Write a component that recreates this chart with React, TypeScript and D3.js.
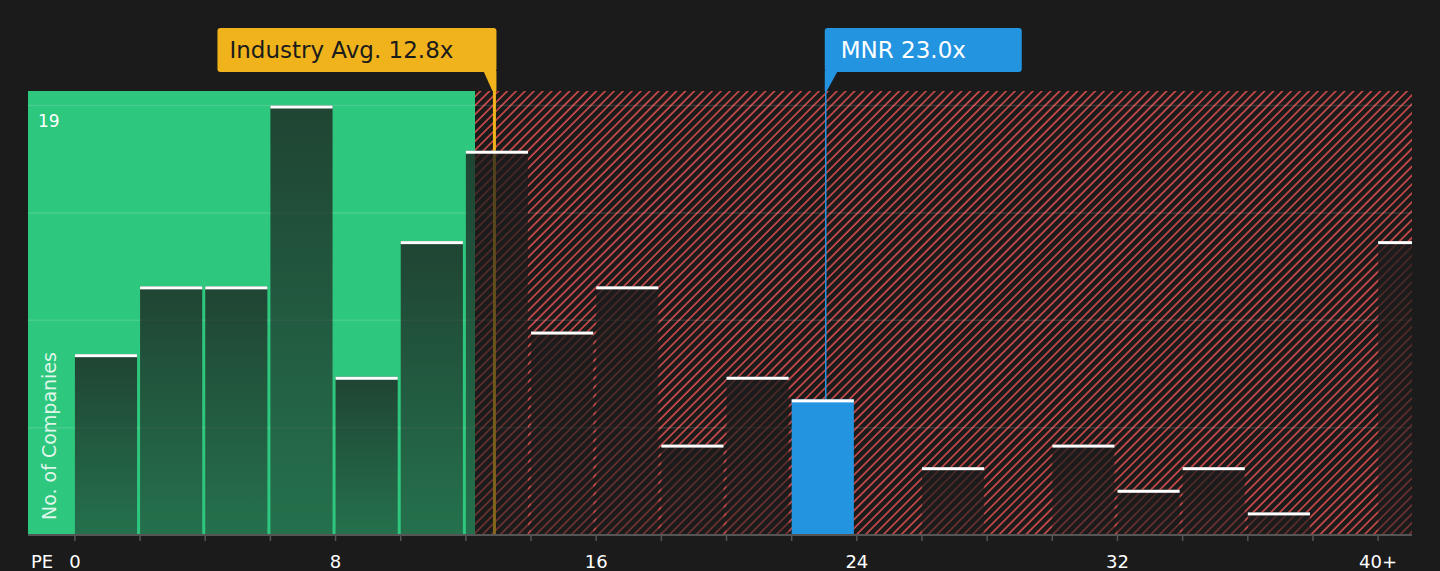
import React from 'react';
import * as d3 from 'd3';

// PE histogram, bins of width 2 (last one is 40+)
const PE_BIN_STARTS = [0, 2, 4, 6, 8, 10, 12, 14, 16, 18, 20, 22, 24, 26, 28, 30, 32, 34, 36, 38, 40];
const COMPANY_COUNTS = [8, 11, 11, 19, 7, 13, 17, 9, 11, 4, 7, 6, 0, 3, 0, 4, 2, 3, 1, 0, 13];
const BIN_WIDTH = 2;

const TICK_VALUES = [0, 8, 16, 24, 32, 40];
const TICK_LABELS = ['0', '8', '16', '24', '32', '40+'];
const MINOR_TICKS = d3.range(0, 41, 2);
const GRID_VALUES = [4.75, 9.5, 14.25, 19];
const Y_MAX = 19;

const INDUSTRY_AVG = 12.8;
const COMPANY_PE = 23.0;
const COMPANY_NAME = 'MNR';
const FAIR_LIMIT = 12.28;

const WIDTH = 1440;
const HEIGHT = 571;
const FONT = '"DejaVu Sans", Verdana, sans-serif';

const App: React.FC = () => {
  const plot = { left: 28, right: 1412, top: 91, bottom: 535 };

  const x = d3.scaleLinear().domain([-1.44, 41.04]).range([plot.left, plot.right]);
  const y = d3.scaleLinear().domain([0, Y_MAX]).range([plot.bottom, 105.5]);

  const bars = PE_BIN_STARTS.map((start, i) => ({
    start,
    count: COMPANY_COUNTS[i],
    highlight: COMPANY_PE >= start && COMPANY_PE < start + BIN_WIDTH,
  })).filter(d => d.count > 0);

  const avgX = x(INDUSTRY_AVG) + 2.5;
  const compX = x(COMPANY_PE) + 1.5;

  return (
    <svg
      width={WIDTH}
      height={HEIGHT}
      style={{ position: 'absolute', left: 0, top: 0, display: 'block', fontFamily: FONT }}
    >
      <defs>
        <pattern id="hatch" patternUnits="userSpaceOnUse" width={6.3} height={6.3} patternTransform="rotate(45)">
          <rect width={6.3} height={6.3} fill="#1b1b1b" />
          <line x1={1} y1={0} x2={1} y2={6.3} stroke="#d44d4c" strokeWidth={1.6} />
        </pattern>
        <linearGradient id="barFill" x1="0" y1="0" x2="0" y2="1">
          <stop offset="0%" stopColor="#1b1b1b" stopOpacity={0.76} />
          <stop offset="100%" stopColor="#1b1b1b" stopOpacity={0.5} />
        </linearGradient>
        <clipPath id="plotClip">
          <rect x={plot.left} y={0} width={plot.right - plot.left} height={plot.bottom} />
        </clipPath>
      </defs>

      <rect width={WIDTH} height={HEIGHT} fill="#1b1b1b" />

      {/* fair value zone and overvalued zone */}
      <rect
        x={plot.left}
        y={plot.top}
        width={x(FAIR_LIMIT) - plot.left}
        height={plot.bottom - plot.top}
        fill="#2ec77e"
      />
      <rect
        x={x(FAIR_LIMIT)}
        y={plot.top}
        width={plot.right - x(FAIR_LIMIT)}
        height={plot.bottom - plot.top}
        fill="url(#hatch)"
      />

      {GRID_VALUES.map(v => (
        <line
          key={v}
          x1={plot.left}
          x2={plot.right}
          y1={y(v)}
          y2={y(v)}
          stroke="#ffffff"
          strokeOpacity={0.12}
          strokeWidth={1.5}
        />
      ))}

      {/* reference lines, drawn behind bars */}
      <line x1={avgX} x2={avgX} y1={72} y2={plot.bottom} stroke="#f0b31c" strokeWidth={3} />
      <line x1={compX} x2={compX} y1={72} y2={plot.bottom} stroke="#2394df" strokeWidth={1.5} />

      <g clipPath="url(#plotClip)">
        {bars.map(d => {
          const bx = x(d.start);
          const bw = x(d.start + BIN_WIDTH) - x(d.start) - 3;
          const by = y(d.count);
          return (
            <g key={d.start}>
              <rect
                x={bx}
                y={by}
                width={bw}
                height={plot.bottom - by}
                fill={d.highlight ? '#2394df' : 'url(#barFill)'}
              />
              <rect x={bx} y={by} width={bw} height={3} fill="#ffffff" />
            </g>
          );
        })}
      </g>

      {/* x axis */}
      <line x1={plot.left} x2={plot.right} y1={plot.bottom} y2={plot.bottom} stroke="#555555" strokeWidth={2} />
      {MINOR_TICKS.map(t => (
        <line key={t} x1={x(t)} x2={x(t)} y1={plot.bottom} y2={plot.bottom + 6} stroke="#555555" strokeWidth={1.5} />
      ))}
      {TICK_VALUES.map((t, i) => (
        <text key={t} x={x(t)} y={568} textAnchor="middle" fontSize={18} fill="#ffffff">
          {TICK_LABELS[i]}
        </text>
      ))}
      <text x={31} y={568} fontSize={18} fill="#ffffff">PE</text>

      {/* y labels */}
      <text x={38} y={127} fontSize={17} fill="#ffffff">{Y_MAX}</text>
      <text
        transform={`translate(56,${plot.bottom - 15}) rotate(-90)`}
        fontSize={19}
        fill="#ffffff"
        fillOpacity={0.85}
      >
        No. of Companies
      </text>

      {/* industry average callout */}
      <g>
        <rect x={avgX + 2 - 279} y={28} width={279} height={44} rx={3} fill="#f0b31c" />
        <path d={`M${avgX - 11},71 L${avgX + 2},71 L${avgX + 2},91 L${avgX - 2},91 Z`} fill="#f0b31c" />
        <text x={avgX + 2 - 267} y={58} fontSize={23} fill="#1b1b1b">
          {`Industry Avg. ${INDUSTRY_AVG.toFixed(1)}x`}
        </text>
      </g>

      {/* company callout */}
      <g>
        <rect x={compX - 1} y={28} width={197} height={44} rx={3} fill="#2394df" />
        <path d={`M${compX - 1},71 L${compX + 12},71 L${compX + 1},91 L${compX - 1},91 Z`} fill="#2394df" />
        <text x={compX + 15} y={58} fontSize={23} fill="#ffffff">
          {`${COMPANY_NAME} ${COMPANY_PE.toFixed(1)}x`}
        </text>
      </g>
    </svg>
  );
};

export default App;
